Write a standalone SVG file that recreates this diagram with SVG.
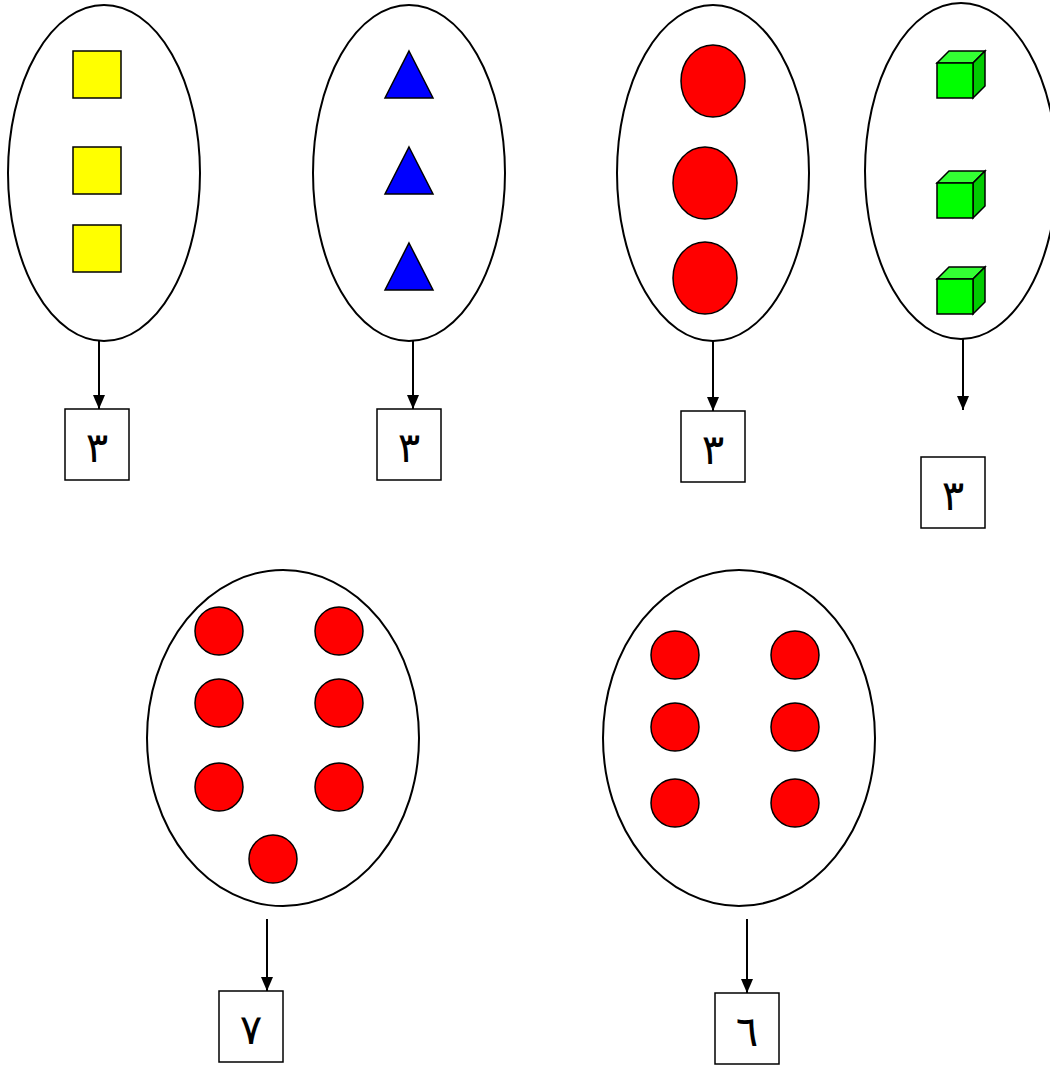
<svg xmlns="http://www.w3.org/2000/svg" width="1050" height="1066" viewBox="0 0 1050 1066">
<defs>
<style>
.e{fill:#fff;stroke:#000;stroke-width:2}
.sq{fill:#ffff00;stroke:#000;stroke-width:1.5}
.tr{fill:#0000ff;stroke:#000;stroke-width:1.5}
.rd{fill:#ff0000;stroke:#000;stroke-width:1.5}
.cf{fill:#00ff00;stroke:#000;stroke-width:1.5}
.ct{fill:#33ff33;stroke:#000;stroke-width:1.5}
.cs{fill:#00cc00;stroke:#000;stroke-width:1.5}
.bx{fill:#fff;stroke:#000;stroke-width:1.5}
.t{font-family:"DejaVu Sans","Liberation Serif",serif;font-size:42px;text-anchor:middle;fill:#000}
.ln{stroke:#000;stroke-width:2;fill:none}
</style>
<marker id="ah" markerWidth="14" markerHeight="12" refX="14" refY="6" orient="auto" markerUnits="userSpaceOnUse" viewBox="0 0 14 12">
<path d="M0 0 L14 6 L0 12 Z" fill="#000"/>
</marker>
<g id="cube">
<polygon class="ct" points="0,0 12,-12 48,-12 36,0"/>
<polygon class="cs" points="36,0 48,-12 48,23 36,35"/>
<rect class="cf" x="0" y="0" width="36" height="35"/>
</g>
</defs>
<g id="set1">
<ellipse class="e" cx="104" cy="173" rx="96" ry="168"/>
<rect class="sq" x="73" y="51" width="48" height="47"/>
<rect class="sq" x="73" y="147" width="48" height="47"/>
<rect class="sq" x="73" y="225" width="48" height="47"/>
</g>
<g id="set2">
<ellipse class="e" cx="409" cy="173" rx="96" ry="168"/>
<polygon class="tr" points="409,51 433,98 385,98"/>
<polygon class="tr" points="409,147 433,194 385,194"/>
<polygon class="tr" points="409,243 433,290 385,290"/>
</g>
<g id="set3">
<ellipse class="e" cx="713" cy="173" rx="96" ry="168"/>
<ellipse class="rd" cx="713" cy="81" rx="32" ry="36"/>
<ellipse class="rd" cx="705" cy="183" rx="32" ry="36"/>
<ellipse class="rd" cx="705" cy="278" rx="32" ry="36"/>
</g>
<g id="set4">
<ellipse class="e" cx="961" cy="171" rx="96" ry="168"/>
<use href="#cube" x="937" y="63"/>
<use href="#cube" x="937" y="183"/>
<use href="#cube" x="937" y="279"/>
</g>
<g id="set5">
<ellipse class="e" cx="283" cy="738" rx="136" ry="168"/>
<circle class="rd" cx="219" cy="631" r="24"/>
<circle class="rd" cx="339" cy="631" r="24"/>
<circle class="rd" cx="219" cy="703" r="24"/>
<circle class="rd" cx="339" cy="703" r="24"/>
<circle class="rd" cx="219" cy="787" r="24"/>
<circle class="rd" cx="339" cy="787" r="24"/>
<circle class="rd" cx="273" cy="859" r="24"/>
</g>
<g id="set6">
<ellipse class="e" cx="739" cy="738" rx="136" ry="168"/>
<circle class="rd" cx="675" cy="655" r="24"/>
<circle class="rd" cx="795" cy="655" r="24"/>
<circle class="rd" cx="675" cy="727" r="24"/>
<circle class="rd" cx="795" cy="727" r="24"/>
<circle class="rd" cx="675" cy="803" r="24"/>
<circle class="rd" cx="795" cy="803" r="24"/>
</g>
<g id="box1"><rect class="bx" x="65" y="409" width="64" height="71"/><text class="t" x="97" y="462">٣</text></g>
<g id="box2"><rect class="bx" x="377" y="409" width="64" height="71"/><text class="t" x="409" y="462">٣</text></g>
<g id="box3"><rect class="bx" x="681" y="411" width="64" height="71"/><text class="t" x="713" y="464">٣</text></g>
<g id="box4"><rect class="bx" x="921" y="457" width="64" height="71"/><text class="t" x="953" y="510">٣</text></g>
<g id="box5"><rect class="bx" x="219" y="991" width="64" height="71"/><text class="t" x="251" y="1044">٧</text></g>
<g id="box6"><rect class="bx" x="715" y="993" width="64" height="71"/><text class="t" x="747" y="1046">٦</text></g>
<g id="connectors">
<line class="ln" x1="99" y1="341" x2="99" y2="409" marker-end="url(#ah)"/>
<line class="ln" x1="413" y1="341" x2="413" y2="409" marker-end="url(#ah)"/>
<line class="ln" x1="713" y1="341" x2="713" y2="411" marker-end="url(#ah)"/>
<line class="ln" x1="963" y1="339" x2="963" y2="410" marker-end="url(#ah)"/>
<line class="ln" x1="267" y1="919" x2="267" y2="991" marker-end="url(#ah)"/>
<line class="ln" x1="747" y1="919" x2="747" y2="993" marker-end="url(#ah)"/>
</g>
</svg>
